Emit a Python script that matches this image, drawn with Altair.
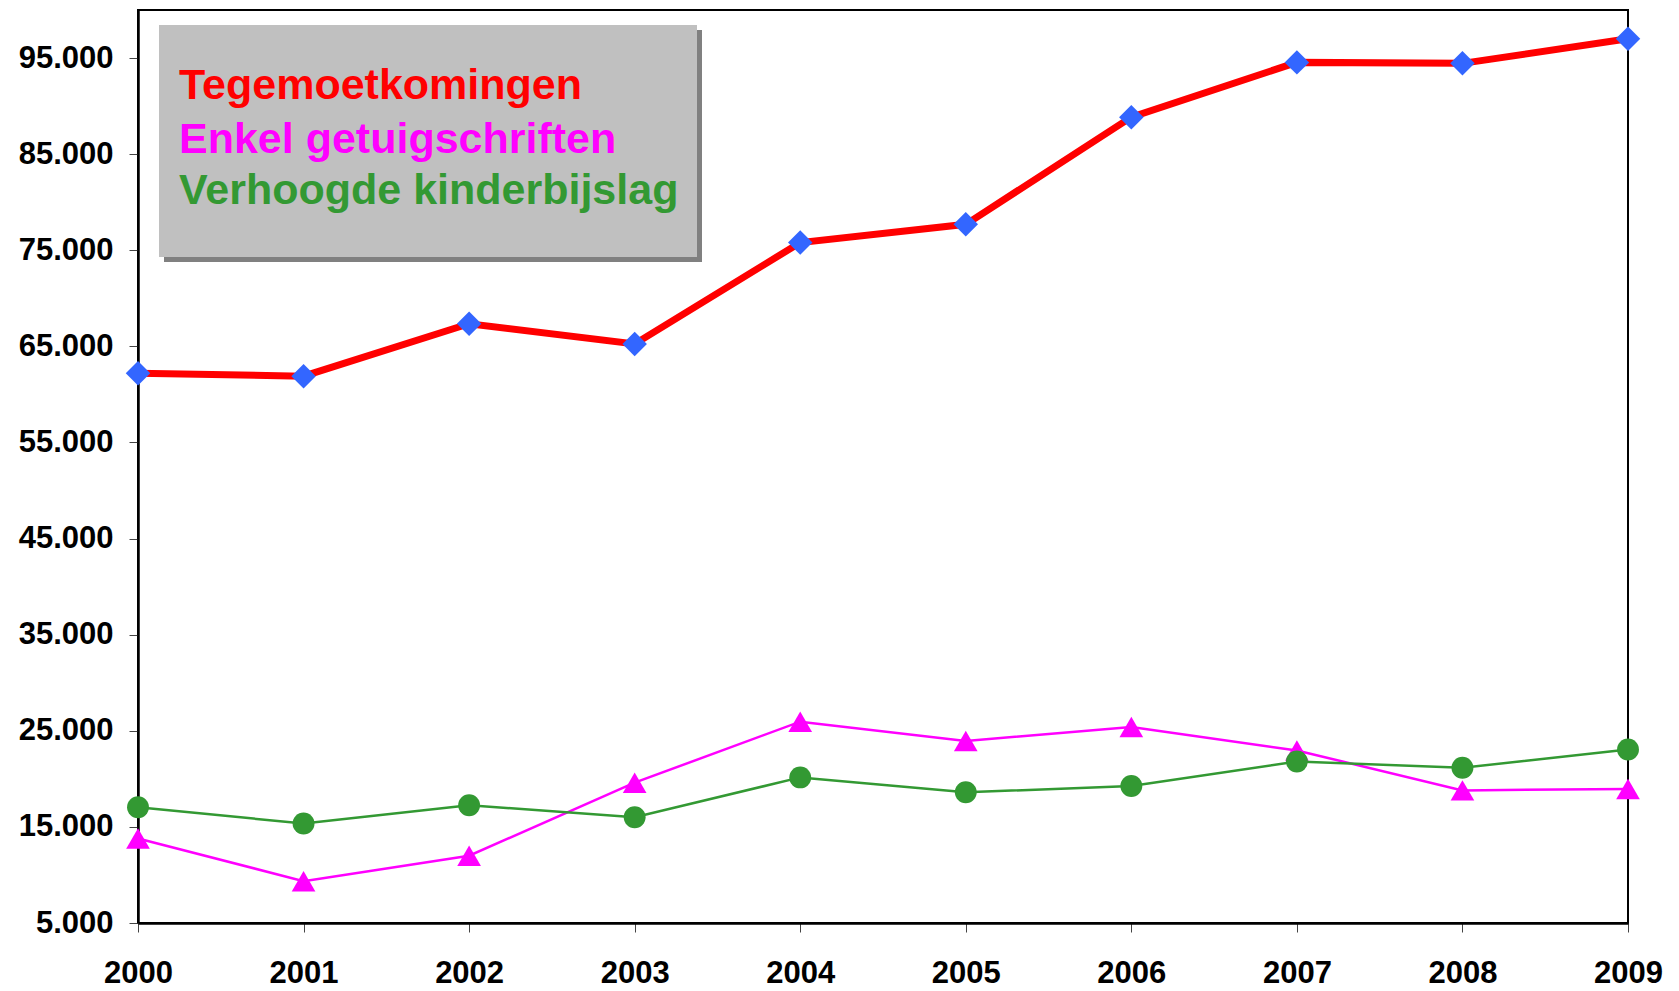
import altair as alt
import pandas as pd

years = [2000, 2001, 2002, 2003, 2004, 2005, 2006, 2007, 2008, 2009]
tegemoetkomingen = [62200, 61900, 67350, 65250, 75800, 77700, 88850, 94550, 94450, 97000]
enkel_getuigschriften = [13800, 9350, 12000, 19600, 25950, 23950, 25400, 22950, 18800, 18950]
verhoogde_kinderbijslag = [17050, 15350, 17250, 16000, 20150, 18600, 19250, 21800, 21150, 23050]

y_ticks = [5000, 15000, 25000, 35000, 45000, 55000, 65000, 75000, 85000, 95000]
legend_labels = ["Tegemoetkomingen", "Enkel getuigschriften", "Verhoogde kinderbijslag"]

df = pd.DataFrame({
    "jaar": years,
    "teg": tegemoetkomingen,
    "enkel": enkel_getuigschriften,
    "verh": verhoogde_kinderbijslag,
})

FONT = "Liberation Sans"

x_enc = alt.X(
    "jaar:Q",
    scale=alt.Scale(domain=[2000, 2009], nice=False, zero=False),
    axis=alt.Axis(values=years, format="d", title=None, grid=False,
                  tickSize=9, labelPadding=26, labelFlush=False),
)

def y_enc(field):
    return alt.Y(
        f"{field}:Q",
        scale=alt.Scale(domain=[5000, 100000], nice=False, zero=False),
        axis=alt.Axis(values=y_ticks, title=None, grid=False, tickSize=9,
                      labelPadding=16,
                      labelExpr="replace(format(datum.value, ','), ',', '.')"),
    )

base = alt.Chart(df)

red = base.mark_line(color="#FF0000", strokeWidth=7).encode(x=x_enc, y=y_enc("teg"))
red_pts = base.mark_point(shape="diamond", filled=True, color="#3366FF", size=600, opacity=1).encode(x=x_enc, y=y_enc("teg"))

mag = base.mark_line(color="#FF00FF", strokeWidth=2.5).encode(x=x_enc, y=y_enc("enkel"))
mag_pts = base.mark_point(shape="triangle-up", filled=True, color="#FF00FF", size=560, opacity=1).encode(x=x_enc, y=y_enc("enkel"))

grn = base.mark_line(color="#339933", strokeWidth=2.5).encode(x=x_enc, y=y_enc("verh"))
grn_pts = base.mark_point(shape="circle", filled=True, color="#339933", size=480, opacity=1).encode(x=x_enc, y=y_enc("verh"))

legend_df = pd.DataFrame({"label": legend_labels})

shadow = alt.Chart(legend_df).mark_rect(color="#808080").encode(
    x=alt.value(26), x2=alt.value(564), y=alt.value(20), y2=alt.value(252))
box = alt.Chart(legend_df).mark_rect(color="#C0C0C0").encode(
    x=alt.value(21), x2=alt.value(559), y=alt.value(15), y2=alt.value(247))

legend_colors = ["#FF0000", "#FF00FF", "#339933"]
legend_baselines = [89, 143, 194]
texts = []
for lbl, col, yb in zip(legend_labels, legend_colors, legend_baselines):
    texts.append(
        alt.Chart(pd.DataFrame({"label": [lbl]})).mark_text(
            align="left", baseline="alphabetic", font=FONT, fontWeight="bold",
            fontSize=43, color=col,
        ).encode(x=alt.value(41), y=alt.value(yb), text="label:N")
    )

chart = alt.layer(
    shadow, box, *texts, red, red_pts, mag, mag_pts, grn, grn_pts
).resolve_scale(y="shared").properties(
    width=1490, height=913,
    autosize="none",
    padding={"left": 130, "top": 2, "right": 43, "bottom": 70},
).configure_view(
    stroke="black", strokeWidth=2
).configure_axis(
    labelFont=FONT, labelFontSize=31, labelFontWeight="bold", labelColor="black",
    domainColor="black", domainWidth=2.5, tickColor="#444444", tickWidth=1,
)

chart.save("out.html", embed_options={"renderer": "svg", "actions": False})
